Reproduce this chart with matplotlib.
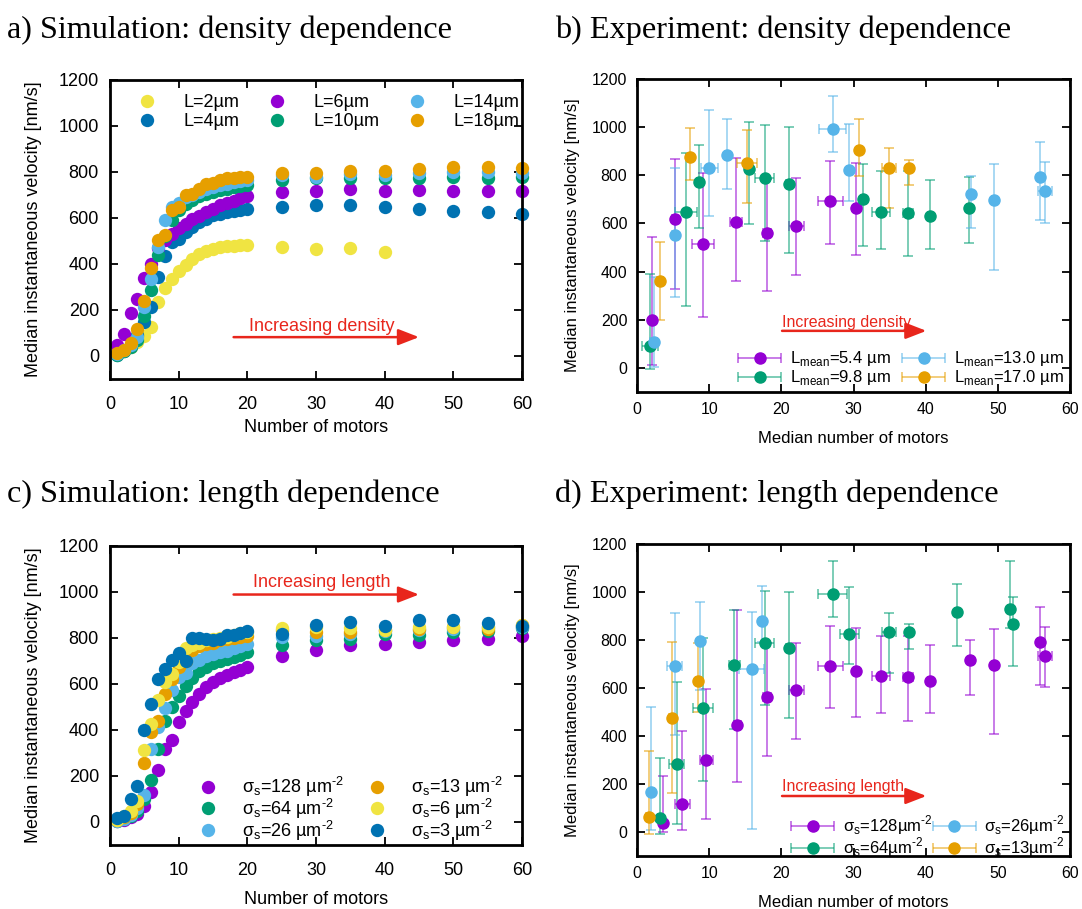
import matplotlib
matplotlib.use('Agg')
import matplotlib.pyplot as plt
from matplotlib.colors import to_rgba
from matplotlib.container import ErrorbarContainer
from matplotlib.legend_handler import HandlerErrorbar

plt.rcParams['font.family'] = ['Liberation Sans', 'DejaVu Sans']
plt.rcParams['mathtext.fontset'] = 'custom'
plt.rcParams['mathtext.rm'] = 'Liberation Sans'

PURPLE = '#9400d3'
GREEN = '#009e73'
LBLUE = '#56b4e9'
ORANGE = '#e69f00'
YELLOW = '#f0e442'
DBLUE = '#0072b2'
RED = '#e8261c'

# simulation: number of motors
n_sim = list(range(1, 21)) + [25, 30, 35, 40, 45, 50, 55, 60]

# a) density dependence, one series per filament length
L2 = [10, 22, 40, 60, 89, 128, 234, 295, 336, 368, 394, 423, 445, 455, 467,
      474, 477, 478, 481, 481, 472, 467, 468, 452]
L4 = [5, 20, 50, 90, 150, 212, 343, 435, 496, 510, 539, 561, 583, 597, 612,
      619, 626, 631, 634, 638, 648, 658, 658, 648, 641, 629, 624, 619]
L6 = [48, 96, 187, 246, 340, 401, 470, 503, 530, 555, 575, 595, 610, 625, 640,
      655, 665, 675, 685, 695, 714, 718, 725, 718, 721, 718, 718, 718]
L10 = [5, 20, 40, 70, 176, 289, 440, 520, 590, 633, 660, 680, 695, 705, 715,
       720, 728, 733, 738, 745, 767, 772, 772, 776, 776, 779, 776, 779]
L14 = [10, 25, 50, 81, 212, 333, 474, 590, 650, 665, 690, 700, 715, 725, 735,
       742, 750, 755, 760, 765, 785, 780, 790, 788, 795, 798, 800, 795]
L18 = [13, 28, 57, 118, 241, 382, 503, 525, 634, 648, 699, 706, 728, 746, 754,
       764, 772, 776, 779, 779, 797, 797, 805, 804, 815, 820, 823, 818]
sim_density = [('L=2µm', YELLOW, L2), ('L=4µm', DBLUE, L4), ('L=6µm', PURPLE, L6),
               ('L=10µm', GREEN, L10), ('L=14µm', LBLUE, L14), ('L=18µm', ORANGE, L18)]

# c) length dependence, one series per motor surface density
s128 = [5, 10, 20, 35, 68, 130, 228, 316, 358, 435, 481, 522, 555, 587, 609,
        628, 638, 652, 662, 674, 722, 746, 768, 772, 783, 790, 797, 807]
s64 = [5, 12, 25, 50, 100, 184, 319, 439, 500, 548, 590, 628, 655, 675, 690,
       700, 710, 718, 725, 740, 771, 790, 797, 819, 814, 826, 829, 845]
s26 = [5, 15, 30, 60, 116, 319, 413, 496, 572, 630, 650, 690, 705, 720, 730,
       740, 745, 755, 765, 775, 804, 807, 816, 829, 833, 841, 848, 848]
s13 = [10, 20, 40, 80, 258, 391, 439, 558, 620, 675, 700, 750, 765, 775, 780,
       790, 795, 800, 805, 810, 833, 826, 826, 833, 841, 848, 841, 855]
s6 = [10, 25, 50, 90, 312, 428, 532, 609, 645, 696, 758, 770, 780, 790, 795,
      800, 805, 815, 820, 825, 845, 848, 843, 833, 848, 848, 848, 855]
s3 = [19, 25, 101, 155, 399, 514, 623, 667, 706, 735, 700, 801, 800, 797, 790,
      795, 812, 814, 822, 829, 819, 858, 870, 851, 877, 880, 865, 851]
sim_length = [('σ$_\\mathregular{s}$=128 µm$^\\text{-2}$', PURPLE, s128),
              ('σ$_\\mathregular{s}$=64 µm$^\\text{-2}$', GREEN, s64),
              ('σ$_\\mathregular{s}$=26 µm$^\\text{-2}$', LBLUE, s26),
              ('σ$_\\mathregular{s}$=13 µm$^\\text{-2}$', ORANGE, s13),
              ('σ$_\\mathregular{s}$=6 µm$^\\text{-2}$', YELLOW, s6),
              ('σ$_\\mathregular{s}$=3 µm$^\\text{-2}$', DBLUE, s3)]

# b) experiment, density dependence: x, y, y low, y high, x error
b54_x = [2.1, 5.2, 9.15, 13.7, 18.0, 22.1, 26.8, 30.3]
b54_y = [200, 620, 516, 607, 559, 591, 693, 665]
b54_lo = [14, 329, 211, 360, 319, 388, 516, 471]
b54_hi = [543, 866, 811, 873, 783, 790, 860, 853]
b54_xe = [0.3, 0.3, 1.5, 0.8, 0.5, 1.1, 1.7, 0.3]

b98_x = [1.76, 6.75, 8.6, 15.5, 17.7, 21.0, 31.3, 33.8, 37.6, 40.6, 46.0]
b98_y = [93, 649, 771, 825, 790, 765, 703, 649, 645, 631, 665]
b98_lo = [-3, 259, 580, 599, 527, 476, 506, 494, 464, 492, 520]
b98_hi = [391, 891, 925, 1023, 1008, 1001, 846, 818, 818, 779, 793]
b98_xe = [1.1, 1.5, 0.3, 0.3, 1.3, 0.3, 0.3, 1.2, 0.7, 0.3, 0.3]

b130_x = [2.3, 5.2, 10.0, 12.5, 27.1, 29.4, 46.3, 49.5, 55.8, 56.5]
b130_y = [107, 552, 832, 883, 991, 821, 721, 699, 793, 735]
b130_lo = [3, 294, 631, 742, 897, 693, 580, 406, 613, 603]
b130_hi = [377, 829, 1070, 1033, 1128, 1012, 797, 846, 940, 855]
b130_xe = [0.5, 0.3, 1.2, 0.3, 1.9, 0.3, 0.3, 0.3, 0.3, 1.0]

b170_x = [3.2, 7.3, 15.2, 30.8, 34.9, 37.7]
b170_y = [360, 876, 853, 904, 832, 832]
b170_lo = [197, 781, 683, 797, 665, 758]
b170_hi = [524, 998, 987, 1033, 912, 862]
b170_xe = [0.4, 0.3, 1.4, 0.3, 1.0, 0.3]

exp_density = [
    ('L$_\\mathregular{mean}$=5.4 µm', PURPLE, b54_x, b54_y, b54_lo, b54_hi, b54_xe),
    ('L$_\\mathregular{mean}$=9.8 µm', GREEN, b98_x, b98_y, b98_lo, b98_hi, b98_xe),
    ('L$_\\mathregular{mean}$=13.0 µm', LBLUE, b130_x, b130_y, b130_lo, b130_hi, b130_xe),
    ('L$_\\mathregular{mean}$=17.0 µm', ORANGE, b170_x, b170_y, b170_lo, b170_hi, b170_xe),
]

# d) experiment, length dependence
d128_x = [3.6, 6.3, 9.6, 13.9, 18.0, 22.1, 26.8, 30.4, 33.8, 37.6, 40.6, 46.2, 49.5, 55.8, 56.5]
d128_y = [37, 115, 298, 446, 561, 591, 692, 671, 648, 644, 630, 717, 696, 793, 734]
d128_lo = [0, 7, 55, 210, 318, 388, 515, 478, 494, 464, 494, 570, 408, 613, 605]
d128_hi = [235, 419, 595, 923, 789, 789, 858, 851, 817, 817, 778, 799, 844, 938, 854]
d128_xe = [0.3, 1.0, 0.9, 0.5, 0.5, 1.0, 1.7, 0.3, 1.2, 0.7, 0.3, 0.3, 0.3, 0.3, 1.0]

d64_x = [3.2, 5.5, 9.15, 13.5, 17.7, 21.0, 27.1, 29.4, 34.9, 37.7, 44.3, 51.7, 52.1]
d64_y = [58, 284, 515, 695, 789, 765, 992, 824, 833, 833, 916, 931, 865]
d64_lo = [-10, 35, 212, 429, 530, 477, 895, 702, 664, 761, 775, 848, 692]
d64_hi = [309, 623, 810, 923, 1006, 1001, 1128, 1021, 913, 868, 1034, 1128, 980]
d64_xe = [0.3, 1.0, 1.4, 0.8, 1.3, 0.3, 2.0, 1.3, 1.0, 0.3, 0.3, 0.3, 0.3]

d26_x = [2.0, 5.2, 8.7, 15.9, 17.3]
d26_y = [166, 692, 796, 678, 879]
d26_lo = [10, 406, 591, 11, 792]
d26_hi = [519, 913, 958, 916, 1027]
d26_xe = [0.3, 1.0, 0.3, 1.7, 0.3]

d13_x = [1.6, 4.8, 8.5]
d13_y = [62, 473, 630]
d13_lo = [-10, 162, 498]
d13_hi = [336, 793, 789]
d13_xe = [0.3, 0.3, 0.3]

exp_length = [
    ('σ$_\\mathregular{s}$=128µm$^\\text{-2}$', PURPLE, d128_x, d128_y, d128_lo, d128_hi, d128_xe),
    ('σ$_\\mathregular{s}$=64µm$^\\text{-2}$', GREEN, d64_x, d64_y, d64_lo, d64_hi, d64_xe),
    ('σ$_\\mathregular{s}$=26µm$^\\text{-2}$', LBLUE, d26_x, d26_y, d26_lo, d26_hi, d26_xe),
    ('σ$_\\mathregular{s}$=13µm$^\\text{-2}$', ORANGE, d13_x, d13_y, d13_lo, d13_hi, d13_xe),
]

W, H = 1082, 909
fig = plt.figure(figsize=(W / 100, H / 100), dpi=100)


def add_ax(left, right, top, bottom):
    return fig.add_axes([left / W, 1 - bottom / H, (right - left) / W, (bottom - top) / H])


def style(ax, fs, padx, pady):
    ax.set_xlim(0, 60)
    ax.set_ylim(-100, 1200)
    ax.set_xticks(range(0, 61, 10))
    ax.set_yticks(range(0, 1201, 200))
    ax.tick_params(direction='in', top=True, right=True, length=6, width=1.3, labelsize=fs)
    ax.tick_params(axis='x', pad=padx)
    ax.tick_params(axis='y', pad=pady)
    for s in ax.spines.values():
        s.set_linewidth(2)


def sim_panel(ax, series, xlab_y):
    for label, c, ys in series:
        ax.plot(n_sim[:len(ys)], ys, 'o', color=c, ms=9.6, mew=0, label=label, clip_on=False)
    style(ax, 13, 12.5, 8)
    ax.set_xlabel('Number of motors', fontsize=13)
    ax.set_ylabel('Median instantaneous velocity [nm/s]', fontsize=13)
    ax.yaxis.set_label_coords(-0.165, 0.5)
    ax.xaxis.set_label_coords(0.5, xlab_y)


def exp_panel(ax, series):
    for label, c, xs, ys, lo, hi, xe in series:
        yerr = [[y - l for y, l in zip(ys, lo)], [h - y for y, h in zip(ys, hi)]]
        ax.errorbar(xs, ys, yerr=yerr, xerr=xe, fmt='o', color=c, ms=8.0, mec=c,
                    ecolor=to_rgba(c, 0.65), elinewidth=1.1, capsize=3.5, capthick=1.1,
                    label=label)
    style(ax, 11.4, 7, 7)
    ax.set_xlabel('Median number of motors', fontsize=12)
    ax.set_ylabel('Median instantaneous velocity [nm/s]', fontsize=12)
    ax.yaxis.set_label_coords(-0.132, 0.5)
    ax.xaxis.set_label_coords(0.5, -0.125)


def arrow(ax, x0, x1, y, text, ty, fs, ha, tx):
    ax.annotate('', xy=(x1, y), xytext=(x0, y),
                arrowprops=dict(arrowstyle='-|>,head_length=0.9,head_width=0.35',
                                color=RED, lw=1.8, mutation_scale=14, shrinkA=0, shrinkB=0))
    ax.text(tx, ty, text, color=RED, fontsize=fs, ha=ha, va='center')


ax_a = add_ax(110, 522, 80, 379)
sim_panel(ax_a, sim_density, -0.135)
ax_a.legend(ncol=3, loc='upper left', bbox_to_anchor=(0.068, 0.952), frameon=False,
            fontsize=13, handlelength=1.0, handletextpad=1.5, columnspacing=1.6,
            labelspacing=0.1, borderpad=0, borderaxespad=0, numpoints=1)
arrow(ax_a, 18, 45, 82, 'Increasing density', 130, 13, 'center', 30.8)

ax_c = add_ax(110, 522, 546, 845)
sim_panel(ax_c, sim_length, -0.155)
ax_c.legend(ncol=2, loc='upper left', bbox_to_anchor=(0.216, 0.235), frameon=False,
            fontsize=13, handlelength=1.0, handletextpad=1.4, columnspacing=1.3,
            labelspacing=-0.12, borderpad=0, borderaxespad=0, numpoints=1)
arrow(ax_c, 18, 45, 989, 'Increasing length', 1041, 13, 'center', 30.8)

hmap = {ErrorbarContainer: HandlerErrorbar(xerr_size=1.29, yerr_size=0)}

ax_b = add_ax(637, 1070, 79, 392)
exp_panel(ax_b, exp_density)
ax_b.legend(ncol=2, loc='upper left', bbox_to_anchor=(0.233, 0.136), frameon=False,
            fontsize=12, handlelength=2.6, handletextpad=0.5, columnspacing=0.7,
            labelspacing=0.0, borderpad=0, borderaxespad=0, numpoints=1, handler_map=hmap)
arrow(ax_b, 20.1, 40.1, 154, 'Increasing density', 188, 11.5, 'left', 20.1)

ax_d = add_ax(637, 1070, 544, 856)
exp_panel(ax_d, exp_length)
ax_d.legend(ncol=2, loc='upper left', bbox_to_anchor=(0.356, 0.136), frameon=False,
            fontsize=12, handlelength=2.6, handletextpad=0.5, columnspacing=0.0,
            labelspacing=-0.1, borderpad=0, borderaxespad=0, numpoints=1, handler_map=hmap)
arrow(ax_d, 20.1, 40.1, 150, 'Increasing length', 188, 11.5, 'left', 20.1)

title_kw = dict(fontsize=23.2, family='Liberation Serif', va='center', ha='left')
fig.text(7 / W, 1 - 30 / H, 'a) Simulation: density dependence', **title_kw)
fig.text(555 / W, 1 - 30 / H, 'b) Experiment: density dependence', **title_kw)
fig.text(7 / W, 1 - 494 / H, 'c) Simulation: length dependence', **title_kw)
fig.text(555 / W, 1 - 494 / H, 'd) Experiment: length dependence', **title_kw)

fig.savefig('out.png', dpi=100)
